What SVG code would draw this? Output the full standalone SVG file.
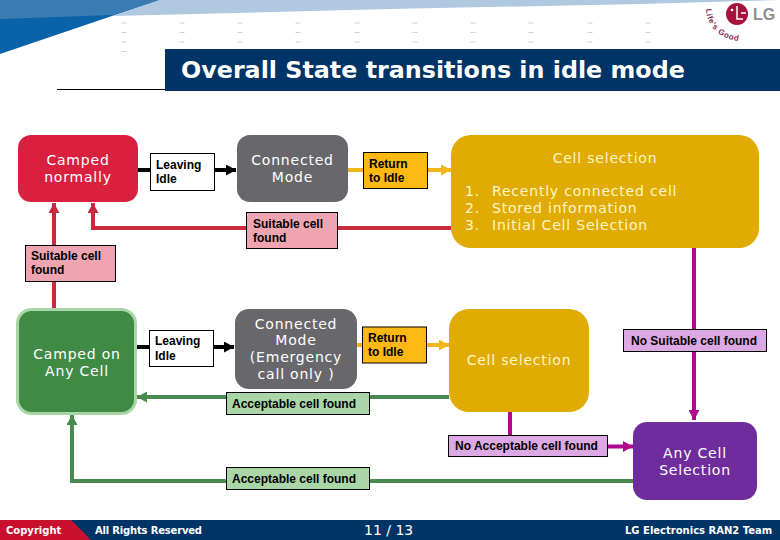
<svg xmlns="http://www.w3.org/2000/svg" width="780" height="540" viewBox="0 0 780 540">
<style>
.n{font-family:"DejaVu Sans",Verdana,sans-serif;font-size:14px;letter-spacing:.8px;fill:#fff;text-anchor:middle}
.y{fill:#fdf6c8}
.s{text-anchor:start}
.l{font-family:"Liberation Sans",Arial,sans-serif;font-size:12px;font-weight:bold;fill:#000}
.b{stroke:#000;stroke-width:1}
.c{fill:none;stroke-width:4}
.f{font-family:"DejaVu Sans",Verdana,sans-serif;font-size:10px;font-weight:bold;fill:#fff}
.d{stroke:#cfcfcf;stroke-width:5;stroke-dasharray:1 8.500;fill:none}
</style>
<defs>
<marker id="ak" markerUnits="userSpaceOnUse" markerWidth="11" markerHeight="11" refX="10" refY="5.5" orient="auto"><path d="M0 0L10 5.500L0 11z" fill="#000"/></marker>
<marker id="ay" markerUnits="userSpaceOnUse" markerWidth="11" markerHeight="11" refX="10" refY="5.5" orient="auto"><path d="M0 0L10 5.500L0 11z" fill="#f2b61c"/></marker>
<marker id="ar" markerUnits="userSpaceOnUse" markerWidth="11" markerHeight="11" refX="10" refY="5.5" orient="auto"><path d="M0 0L10 5.500L0 11z" fill="#c9293f"/></marker>
<marker id="ag" markerUnits="userSpaceOnUse" markerWidth="11" markerHeight="11" refX="10" refY="5.5" orient="auto"><path d="M0 0L10 5.500L0 11z" fill="#4a8a4f"/></marker>
<marker id="am" markerUnits="userSpaceOnUse" markerWidth="11" markerHeight="11" refX="10" refY="5.5" orient="auto"><path d="M0 0L10 5.500L0 11z" fill="#b0088c"/></marker>
<path id="arc" d="M706 9C706 24 718 39 739 41"/>
</defs>
<rect width="780" height="540" fill="#fff"/>
<g id="header">
<polygon points="113,16 159,0 780,0 640,4 390,9" fill="#b0c8e0"/>
<polygon points="0,0 159,0 0,54" fill="#0a62a8"/>
<polygon points="0,0 159,0 113,15 0,19" fill="#3a7cb2"/>
<path class="d" d="M124 22.500V52M182 22.500V43M240 22.500V43M298 22.500V43M357 22.500V43M415 22.500V43M473 22.500V43M531 22.500V43M590 22.500V43M648 22.500V43"/>
<rect x="165" y="49" width="615" height="42" fill="#003366"/>
<path d="M57 89.500H165" stroke="#000"/>
<text x="181" y="78" font-family="DejaVu Sans,sans-serif" font-size="23.800px" font-weight="bold" fill="#fff">Overall State transitions in idle mode</text>
</g>
<g id="logo">
<circle cx="737" cy="14" r="11" fill="#a5133c"/>
<path d="M737 6V19H743M746 13H741" fill="none" stroke="#fff" stroke-width="1.500"/>
<circle cx="732" cy="10" r="1.300" fill="#fff"/>
<text x="753" y="20" font-family="Liberation Sans,sans-serif" font-size="16px" font-weight="bold" fill="#8a8f96">LG</text>
<text font-family="Liberation Sans,sans-serif" font-size="8px" font-weight="bold" fill="#8a2a50" letter-spacing=".6"><textPath href="#arc">Life's Good</textPath></text>
</g>
<g id="connectors">
<path class="c" stroke="#000" d="M138 170H236" marker-end="url(#ak)"/>
<path class="c" stroke="#000" d="M137 347H234" marker-end="url(#ak)"/>
<path class="c" stroke="#f2b61c" d="M348 170H451" marker-end="url(#ay)"/>
<path class="c" stroke="#f2b61c" d="M357 345H449" marker-end="url(#ay)"/>
<path class="c" stroke="#c9293f" d="M451 228H93V203" marker-end="url(#ar)"/>
<path class="c" stroke="#c9293f" d="M54 308V203" marker-end="url(#ar)"/>
<path class="c" stroke="#4a8a4f" d="M449 397H137" marker-end="url(#ag)"/>
<path class="c" stroke="#4a8a4f" d="M633 481H72V415" marker-end="url(#ag)"/>
<path class="c" stroke="#b0088c" d="M694 248V420" marker-end="url(#am)"/>
<path class="c" stroke="#b0088c" d="M510 412V446.500H633" marker-end="url(#am)"/>
</g>
<g id="camped-normally"><rect x="18" y="135" width="120" height="67" rx="13" fill="#d9213f"/><text class="n" x="78" y="165">Camped</text><text class="n" x="78" y="182">normally</text></g>
<g id="leaving-idle-1"><rect class="b" x="150.500" y="153.500" width="64" height="37" fill="#fff"/><text class="l" x="156" y="169">Leaving</text><text class="l" x="156" y="183">Idle</text></g>
<g id="connected-mode"><rect x="237" y="135" width="111" height="67" rx="13" fill="#67676c"/><text class="n" x="292.500" y="165">Connected</text><text class="n" x="292.500" y="182">Mode</text></g>
<g id="return-idle-1"><rect class="b" x="363.500" y="152.500" width="64" height="36" fill="#fdb813"/><text class="l" x="369" y="168">Return</text><text class="l" x="369" y="182">to Idle</text></g>
<g id="cell-selection-1"><rect x="451" y="135" width="308" height="113" rx="20" fill="#e0ab03"/><text class="n y" x="605" y="163">Cell selection</text>
<text class="n y s" x="465" y="196">1.</text><text class="n y s" x="492" y="196">Recently connected cell</text>
<text class="n y s" x="465" y="213">2.</text><text class="n y s" x="492" y="213">Stored information</text>
<text class="n y s" x="465" y="230">3.</text><text class="n y s" x="492" y="230">Initial Cell Selection</text></g>
<g id="suitable-1"><rect class="b" x="246.500" y="212.500" width="91" height="36" fill="#eea5b1"/><text class="l" x="253" y="228">Suitable cell</text><text class="l" x="253" y="242">found</text></g>
<g id="suitable-2"><rect class="b" x="25.500" y="245.500" width="90" height="36" fill="#eea5b1"/><text class="l" x="31" y="260">Suitable cell</text><text class="l" x="31" y="274">found</text></g>
<g id="camped-any"><rect x="17.500" y="309.500" width="118" height="104" rx="14" fill="#3f8a45" stroke="#a9d6a6" stroke-width="3"/><text class="n" x="77" y="359">Camped on</text><text class="n" x="77" y="376">Any Cell</text></g>
<g id="leaving-idle-2"><rect class="b" x="149.500" y="330.500" width="64" height="36" fill="#fff"/><text class="l" x="155" y="345">Leaving</text><text class="l" x="155" y="360">Idle</text></g>
<g id="connected-emergency"><rect x="235" y="309" width="122" height="80" rx="14" fill="#67676c"/><text class="n" x="296" y="329">Connected</text><text class="n" x="296" y="345">Mode</text><text class="n" x="296" y="362">(Emergency</text><text class="n" x="296" y="379">call only )</text></g>
<g id="return-idle-2"><rect class="b" x="362.500" y="327" width="64" height="36" fill="#fdb813"/><text class="l" x="368" y="342">Return</text><text class="l" x="368" y="356">to Idle</text></g>
<g id="cell-selection-2"><rect x="449" y="309" width="140" height="103" rx="20" fill="#e0ab03"/><text class="n y" x="519" y="365">Cell selection</text></g>
<g id="acceptable-1"><rect class="b" x="226.500" y="392.500" width="143" height="22" fill="#aad6a7"/><text class="l" x="232" y="408">Acceptable cell found</text></g>
<g id="no-suitable"><rect class="b" x="623.500" y="329.500" width="143" height="22" fill="#dda9e4"/><text class="l" x="631" y="345">No Suitable cell found</text></g>
<g id="no-acceptable"><rect class="b" x="448.500" y="435.500" width="159" height="21" fill="#dda9e4"/><text class="l" x="455" y="450">No Acceptable cell found</text></g>
<g id="acceptable-2"><rect class="b" x="226.500" y="467.500" width="143" height="22" fill="#aad6a7"/><text class="l" x="232" y="483">Acceptable cell found</text></g>
<g id="any-cell"><rect x="633" y="422" width="124" height="78" rx="14" fill="#6f2c9d"/><text class="n" x="695" y="458">Any Cell</text><text class="n" x="695" y="475">Selection</text></g>
<g id="footer">
<rect y="520" width="780" height="20" fill="#003366"/>
<polygon points="0,520 71,520 91,540 0,540" fill="#c8102e"/>
<text class="f" x="6" y="534">Copyright</text>
<text class="f" x="95" y="534" textLength="107">All Rights Reserved</text>
<text x="364" y="535" font-family="DejaVu Sans,sans-serif" font-size="14px" fill="#fff">11 / 13</text>
<text class="f" x="625" y="534">LG Electronics RAN2 Team</text>
</g>
</svg>
